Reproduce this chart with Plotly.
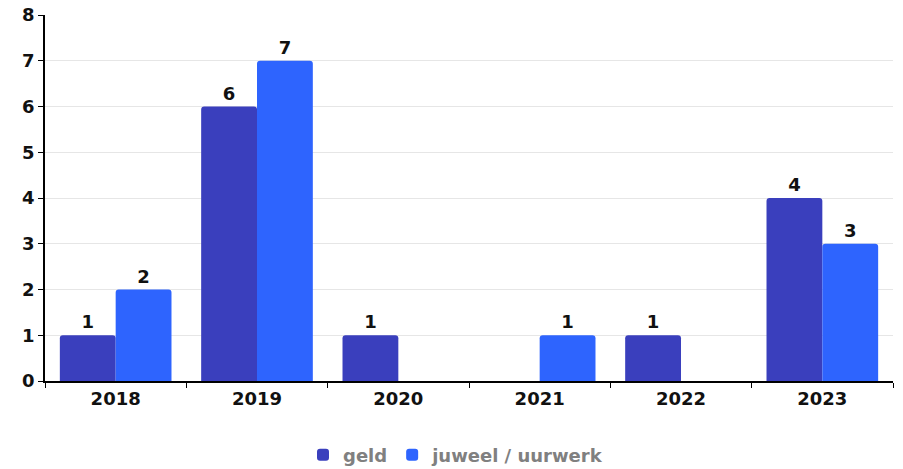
import plotly.graph_objects as go

years = ["2018", "2019", "2020", "2021", "2022", "2023"]
geld = [1, 6, 1, None, 1, 4]
juweel = [2, 7, None, 1, None, 3]

def labels(vals):
    return [str(v) if v is not None else "" for v in vals]

FONT = "DejaVu Sans"
W, H = 903, 469
fig = go.Figure()
fig.add_trace(go.Bar(x=years, y=geld, name="geld", marker_color="#3a3fbd",
                     marker_line_width=0,
                     text=labels(geld), textposition="outside", cliponaxis=False,
                     textfont=dict(family=FONT, size=18, color="#111111", weight="bold")))
fig.add_trace(go.Bar(x=years, y=juweel, name="juweel / uurwerk", marker_color="#2e64fe",
                     marker_line_width=0,
                     text=labels(juweel), textposition="outside", cliponaxis=False,
                     textfont=dict(family=FONT, size=18, color="#111111", weight="bold")))

fig.update_layout(
    width=W, height=H,
    margin=dict(l=45, r=10, t=15, b=88, autoexpand=False),
    paper_bgcolor="white", plot_bgcolor="white",
    barmode="group", bargap=0.21, bargroupgap=0,
    barcornerradius=3,
    font=dict(family=FONT, size=18, color="#111111"),
    showlegend=True,
    legend=dict(orientation="h", x=456 / W, xanchor="center", xref="container",
                y=(H - 455) / H, yanchor="middle", yref="container",
                font=dict(family=FONT, size=18, color="#808080", weight="bold"),
                itemwidth=30),
)
fig.update_xaxes(type="category", tickson="boundaries", ticks="outside", ticklen=5,
                 tickcolor="#000", showline=True, linecolor="#000", linewidth=1.5,
                 showgrid=False, automargin=False, ticklabelstandoff=1,
                 ticklabeloverflow="allow",
                 tickfont=dict(family=FONT, size=18, color="#111111", weight="bold"))
fig.update_yaxes(range=[0, 8], dtick=1, ticks="outside", ticklen=5, tickcolor="#000",
                 showline=True, linecolor="#000", linewidth=1.5, automargin=False,
                 gridcolor="#e6e6e6", zeroline=False, ticklabeloverflow="allow",
                 tickfont=dict(family=FONT, size=18, color="#111111", weight="bold"))

fig.write_html("out.html", config={"displayModeBar": False},
               post_script="document.body.style.margin='0px';")
